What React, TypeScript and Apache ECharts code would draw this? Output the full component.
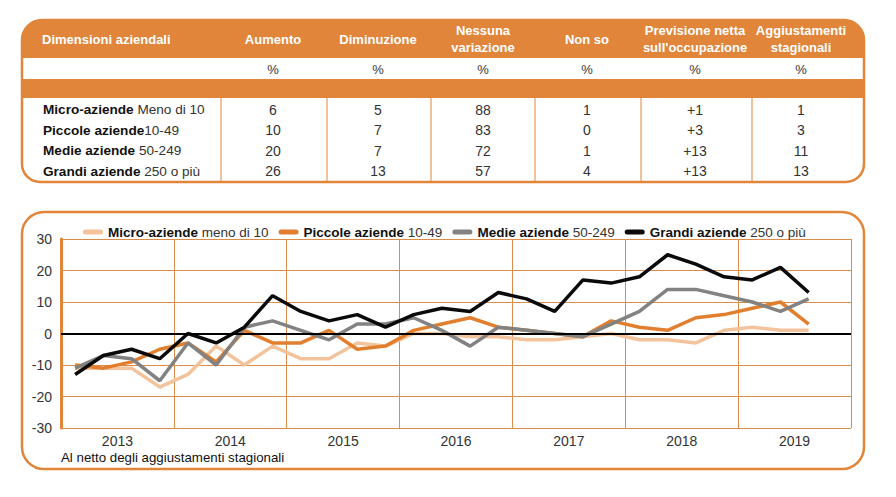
import React, { useEffect, useRef } from "react";
import * as echarts from "echarts";

// ---------- data ----------
const years = ["2013", "2014", "2015", "2016", "2017", "2018", "2019"];
const quarters = years.flatMap((y) => ["T1", "T2", "T3", "T4"].map((q) => `${q} ${y}`));

const seriesNames = [
  "Micro-aziende meno di 10",
  "Piccole aziende 10-49",
  "Medie aziende 50-249",
  "Grandi aziende 250 o più",
];
const legendBold = ["Micro-aziende", "Piccole aziende", "Medie aziende", "Grandi aziende"];
const legendRest = ["meno di 10", "10-49", "50-249", "250 o più"];

const microData = [-11, -11, -11, -17, -13, -4, -10, -4, -8, -8, -3, -4, 0, 0, -1, -1, -2, -2, -1, 0, -2, -2, -3, 1, 2, 1, 1];
const piccoleData = [-10, -11, -9, -5, -3, -9, 1, -3, -3, 1, -5, -4, 1, 3, 5, 2, 1, 0, -1, 4, 2, 1, 5, 6, 8, 10, 3];
const medieData = [-11, -7, -8, -15, -3, -10, 2, 4, 1, -2, 3, 3, 5, 1, -4, 2, 1, 0, -1, 3, 7, 14, 14, 12, 10, 7, 11];
const grandiData = [-13, -7, -5, -8, 0, -3, 2, 12, 7, 4, 6, 2, 6, 8, 7, 13, 11, 7, 17, 16, 18, 25, 22, 18, 17, 21, 13];

const footnote = "Al netto degli aggiustamenti stagionali";

// table
const tableHeaderFirst = "Dimensioni aziendali";
const tableHeaders = ["Aumento", "Diminuzione", "Nessuna\nvariazione", "Non so", "Previsione netta\nsull'occupazione", "Aggiustamenti\nstagionali"];
const tableUnits = ["%", "%", "%", "%", "%", "%"];
const rowBold = ["Micro-aziende", "Piccole aziende", "Medie aziende", "Grandi aziende"];
const rowRest = [" Meno di 10", "10-49", " 50-249", " 250 o più"];
const aumento = ["6", "10", "20", "26"];
const diminuzione = ["5", "7", "7", "13"];
const nessunaVariazione = ["88", "83", "72", "57"];
const nonSo = ["1", "0", "1", "4"];
const previsioneNetta = ["+1", "+3", "+13", "+13"];
const aggiustamenti = ["1", "3", "11", "13"];

// ---------- styles ----------
const FONT = "'Liberation Sans', Arial, Helvetica, sans-serif";
const ORANGE = "#E1853A";
const GRID = "#DB8C48";
const COLORS = ["#F3C49C", "#E17F2F", "#828282", "#0A0A0A"];

export default function App() {
  const ref = useRef<HTMLDivElement>(null);

  useEffect(() => {
    document.body.style.margin = "0";
    if (!ref.current) return;
    const chart = echarts.init(ref.current, null, { renderer: "svg" });

    const colCenters = [273, 378, 483, 587, 695, 801];
    const dividers = [221, 327, 431, 535, 641, 752];
    const rowY = [109.5, 130, 150.5, 171];
    const columns = [aumento, diminuzione, nessunaVariazione, nonSo, previsioneNetta, aggiustamenti];

    const txt = (x: number, y: number, text: string, extra: any = {}) => ({
      type: "text",
      x,
      y,
      silent: true,
      style: {
        text,
        fontFamily: FONT,
        fontSize: 14,
        fill: "#222",
        align: "center",
        verticalAlign: "middle",
        textAlign: "center",
        textVerticalAlign: "middle",
        ...extra,
      },
    });

    const elements: any[] = [];
    // table background bands
    elements.push({
      type: "rect",
      silent: true,
      shape: { x: 22, y: 20, width: 842, height: 38, r: [20, 20, 0, 0] },
      style: { fill: ORANGE },
    });
    elements.push({
      type: "rect",
      silent: true,
      shape: { x: 22, y: 79, width: 842, height: 19 },
      style: { fill: ORANGE },
    });
    elements.push({
      type: "rect",
      silent: true,
      shape: { x: 22, y: 20, width: 842, height: 162, r: [20, 20, 18, 18] },
      style: { fill: "none", stroke: ORANGE, lineWidth: 2.5 },
    });
    dividers.forEach((x) =>
      elements.push({
        type: "line",
        silent: true,
        shape: { x1: x, y1: 98, x2: x, y2: 182 },
        style: { stroke: ORANGE, lineWidth: 1 },
      })
    );
    // headers
    elements.push(
      txt(42, 39, tableHeaderFirst, { fill: "#fff", fontWeight: "bold", fontSize: 13, align: "left", textAlign: "left" })
    );
    tableHeaders.forEach((h, i) =>
      elements.push(txt(colCenters[i], 39, h, { fill: "#fff", fontWeight: "bold", fontSize: 13, lineHeight: 17 }))
    );
    tableUnits.forEach((u, i) => elements.push(txt(colCenters[i], 69.5, u, { fontSize: 13, fill: "#333" })));
    rowBold.forEach((b, r) => {
      elements.push(
        txt(43, rowY[r], `{b|${b}}${rowRest[r]}`, {
          align: "left",
          textAlign: "left",
          fill: "#333",
          fontSize: 13.6,
          rich: { b: { fontWeight: "bold", fontSize: 13.6, fontFamily: FONT, fill: "#111", color: "#111" } },
        })
      );
      columns.forEach((col, c) => elements.push(txt(colCenters[c], rowY[r], col[r], { fill: "#333" })));
    });
    // chart box
    elements.push({
      type: "rect",
      silent: true,
      shape: { x: 22, y: 212, width: 842, height: 257, r: 22 },
      style: { fill: "none", stroke: ORANGE, lineWidth: 2.5 },
    });
    elements.push(txt(61, 457, footnote, { align: "left", textAlign: "left", fill: "#111", fontSize: 13.3 }));

    const dataSets = [microData, piccoleData, medieData, grandiData];

    chart.setOption({
      animation: false,
      textStyle: { fontFamily: FONT },
      graphic: { elements },
      legend: {
        left: 78,
        top: 220,
        itemWidth: 20,
        itemHeight: 5,
        itemGap: 10,
        icon: "path://M2.5,0 H17.5 A2.5,2.5 0 0 1 17.5,5 H2.5 A2.5,2.5 0 0 1 2.5,0 Z",
        data: seriesNames,
        formatter: (name: string) => {
          const i = seriesNames.indexOf(name);
          return `{b|${legendBold[i]}} ${legendRest[i]}`;
        },
        textStyle: {
          fontSize: 13.5,
          color: "#333",
          fontFamily: FONT,
          rich: { b: { fontWeight: "bold", fontSize: 13.5, color: "#111", fontFamily: FONT } },
        },
      },
      grid: { left: 61, right: 45, top: 239, bottom: 69, containLabel: false },
      xAxis: [
        {
          type: "category",
          data: years,
          position: "bottom",
          boundaryGap: true,
          axisLine: { show: false },
          axisTick: { show: false },
          axisLabel: { fontSize: 14, color: "#333", margin: 6, fontFamily: FONT },
          splitLine: { show: true, lineStyle: { color: GRID, width: 1 } },
        },
        {
          type: "category",
          data: quarters,
          position: "bottom",
          boundaryGap: true,
          show: false,
        },
      ],
      yAxis: {
        type: "value",
        min: -30,
        max: 30,
        interval: 10,
        axisLine: { show: true, lineStyle: { color: ORANGE, width: 3 } },
        axisTick: { show: false },
        axisLabel: { fontSize: 14, color: "#333", margin: 9, fontFamily: FONT },
        splitLine: { show: true, lineStyle: { color: GRID, width: 1 } },
      },
      series: seriesNames.map((name, i) => ({
        name,
        type: "line",
        xAxisIndex: 1,
        data: dataSets[i],
        symbol: "none",
        color: COLORS[i],
        lineStyle: { color: COLORS[i], width: 3.5 },
        markLine:
          i === 0
            ? {
                silent: true,
                symbol: ["none", "none"],
                label: { show: false },
                lineStyle: { color: "#000", width: 2, type: "solid" },
                data: [{ yAxis: 0 }],
              }
            : undefined,
      })),
    });

    return () => chart.dispose();
  }, []);

  return <div ref={ref} style={{ width: 896, height: 497 }} />;
}
